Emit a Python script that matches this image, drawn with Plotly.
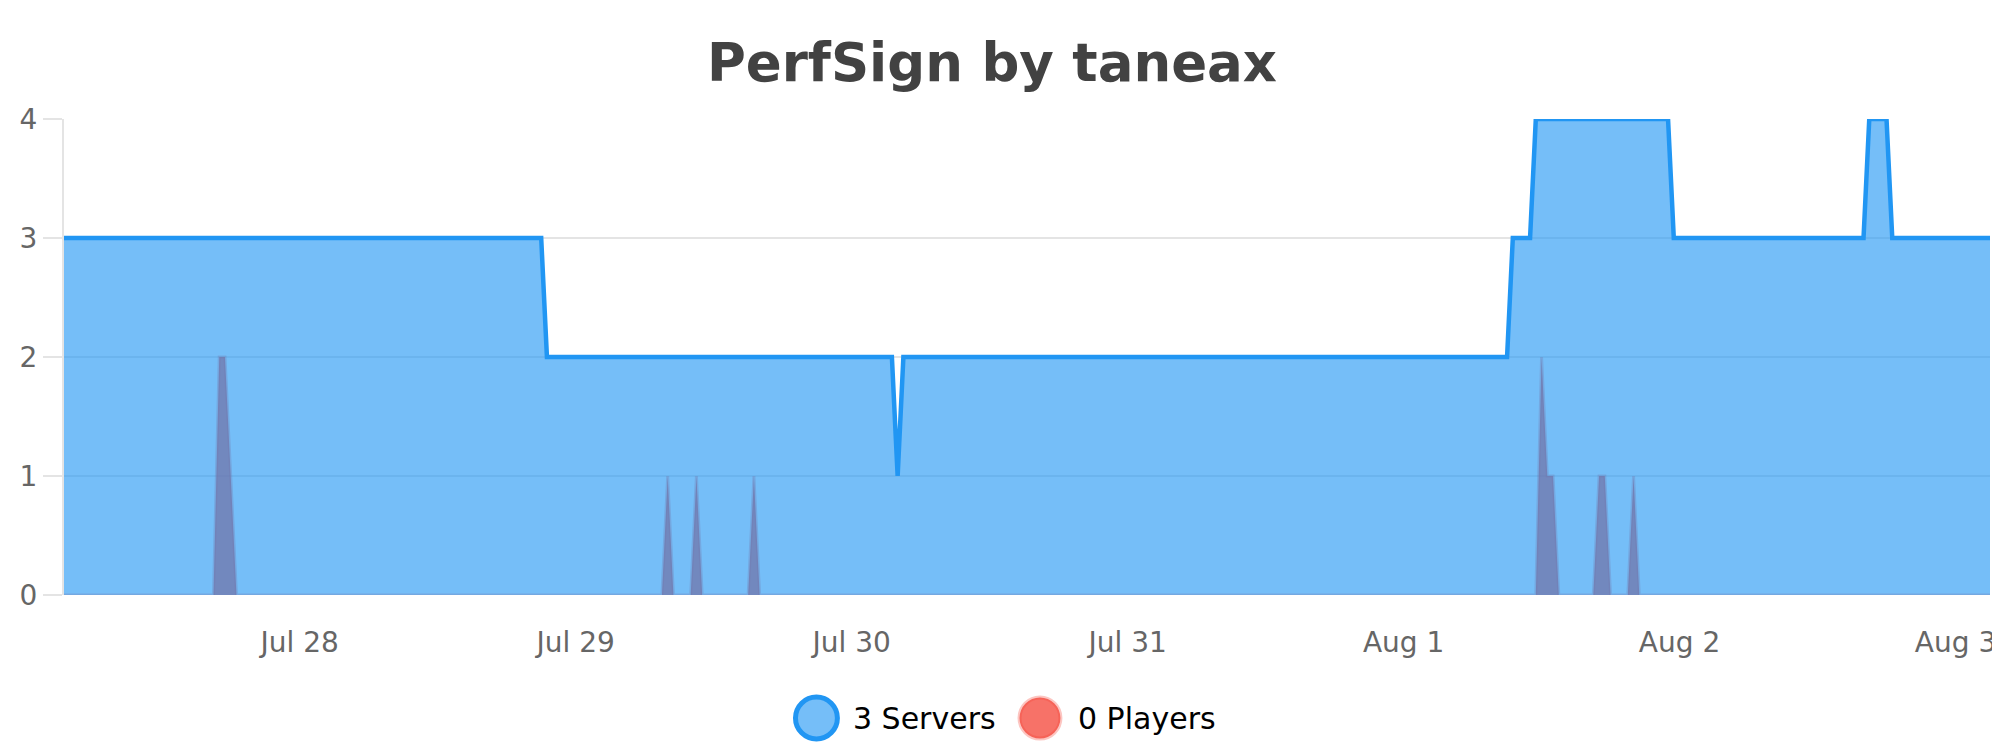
import pandas as pd
import plotly.graph_objects as go

# ---------------- data ----------------
server_times = [
    "2024-07-27 03:30", "2024-07-28 21:00", "2024-07-28 21:30",
    "2024-07-30 03:30", "2024-07-30 04:00", "2024-07-30 04:30",
    "2024-08-01 09:00", "2024-08-01 09:30", "2024-08-01 11:00",
    "2024-08-01 11:30", "2024-08-01 23:00", "2024-08-01 23:30",
    "2024-08-02 16:00", "2024-08-02 16:30", "2024-08-02 18:00",
    "2024-08-02 18:30", "2024-08-03 03:00",
]
server_values = [3, 3, 2, 2, 1, 2, 2, 3, 3, 4, 4, 3, 3, 4, 4, 3, 3]

player_times = [
    "2024-07-27 03:30", "2024-07-27 16:30", "2024-07-27 17:00",
    "2024-07-27 17:30", "2024-07-27 18:00", "2024-07-27 18:30",
    "2024-07-29 07:30", "2024-07-29 08:00", "2024-07-29 08:30",
    "2024-07-29 10:00", "2024-07-29 10:30", "2024-07-29 11:00",
    "2024-07-29 15:00", "2024-07-29 15:30", "2024-07-29 16:00",
    "2024-08-01 11:30", "2024-08-01 12:00", "2024-08-01 12:30",
    "2024-08-01 13:00", "2024-08-01 13:30",
    "2024-08-01 16:30", "2024-08-01 17:00", "2024-08-01 17:30",
    "2024-08-01 18:00",
    "2024-08-01 19:30", "2024-08-01 20:00", "2024-08-01 20:30",
    "2024-08-03 03:00",
]
player_values = [0, 0, 2, 2, 1, 0,
                 0, 1, 0,
                 0, 1, 0,
                 0, 1, 0,
                 0, 2, 1, 1, 0,
                 0, 1, 1, 0,
                 0, 1, 0,
                 0]

series_names = ["3 Servers", "0 Players"]
title_text = "PerfSign by taneax"
y_ticks = [0, 1, 2, 3, 4]

# ---------------- style ----------------
FONT = "DejaVu Sans"
BLUE = "#2196F3"
BLUE_FILL = "rgba(33,150,243,0.62)"
RED_FILL = "rgba(244,67,54,0.75)"
RED_LINE = "rgba(244,67,54,0.3)"
GRID = "#e4e4e4"
W, H = 2000, 750
PL, PR, PT, PB = 53, 1983, 111, 587

sx = pd.to_datetime(server_times)
px_ = pd.to_datetime(player_times)

fig = go.Figure()
fig.add_trace(go.Scatter(
    x=px_, y=player_values, mode="lines", name=series_names[1],
    line=dict(color=RED_LINE, width=3),
    fill="tozeroy", fillcolor=RED_FILL, showlegend=False,
))
fig.add_trace(go.Scatter(
    x=sx, y=server_values, mode="lines", name=series_names[0],
    line=dict(color=BLUE, width=4.5),
    fill="tozeroy", fillcolor=BLUE_FILL, showlegend=False,
))


def pxx(p):
    return (p - PL) / (PR - PL)


def pxy(p):
    return (PB - p) / (PB - PT)


# custom legend (circles + text)
shapes = []
annotations = []
leg = [
    (807, 21, BLUE_FILL, BLUE, 5, 842, series_names[0]),
    (1031, 20.5, RED_FILL, RED_LINE, 4, 1067, series_names[1]),
]
cy = 710
for cx, r, fc, lc, lw, tx, txt in leg:
    shapes.append(dict(
        type="circle", xref="paper", yref="paper",
        x0=pxx(cx - r), x1=pxx(cx + r), y0=pxy(cy + r), y1=pxy(cy - r),
        fillcolor=fc, line=dict(color=lc, width=lw), layer="above",
    ))
    annotations.append(dict(
        text=txt, xref="paper", yref="paper", x=pxx(tx), y=pxy(cy),
        xanchor="left", yanchor="middle", showarrow=False,
        font=dict(family=FONT, size=30, color="#000000"),
    ))

fig.update_layout(
    width=W, height=H,
    margin=dict(l=PL, r=W - PR, t=PT, b=H - PB, pad=0),
    paper_bgcolor="white", plot_bgcolor="white",
    font=dict(family=FONT),
    title=dict(
        text=title_text, x=0.492, xref="container", xanchor="center",
        y=1 - 54 / H, yref="container", yanchor="middle",
        font=dict(family=FONT, size=53, color="#424242", weight="bold"),
    ),
    showlegend=False,
    shapes=shapes,
    annotations=annotations,
    xaxis=dict(
        type="date",
        range=[sx[0], sx[-1]],
        showgrid=False, zeroline=False, showline=False,
        ticks="outside", ticklen=22, tickcolor="rgba(0,0,0,0)",
        tick0="2024-07-28", dtick=86400000, tickformat="%b %-d",
        tickfont=dict(family=FONT, size=28, color="#666666"),
    ),
    yaxis=dict(
        range=[0, 4], tickvals=y_ticks,
        showgrid=True, gridcolor=GRID, gridwidth=2,
        zeroline=False,
        showline=True, linecolor=GRID, linewidth=2,
        ticks="outside", ticklen=19, tickcolor=GRID, tickwidth=2,
        tickfont=dict(family=FONT, size=28, color="#666666"),
    ),
    hovermode=False,
)

fig.write_html("out.html")
